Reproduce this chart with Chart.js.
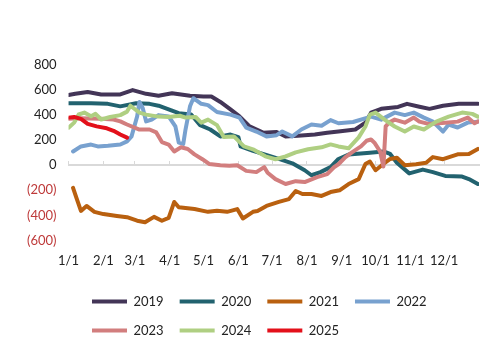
<!DOCTYPE html>
<html>
<head>
<meta charset="utf-8">
<script src="https://cdn.jsdelivr.net/npm/chart.js@4.4.0/dist/chart.umd.min.js"></script>
<style>
  html, body { margin: 0; padding: 0; background: #fff; }
</style>
</head>
<body>
<canvas id="chart" width="502" height="354"></canvas>
<script>
// x is day of year (0 = 1/1), ticks on the first of each month
const monthDays = [0, 31, 59, 90, 120, 151, 181, 212, 243, 273, 304, 334];
const monthLabels = ["1/1", "2/1", "3/1", "4/1", "5/1", "6/1", "7/1", "8/1", "9/1", "10/1", "11/1", "12/1"];
const yTicks = [-600, -400, -200, 0, 200, 400, 600, 800];

const years = ["2019", "2020", "2021", "2022", "2023", "2024", "2025"];
const colors = ["#433557", "#22626F", "#B9600F", "#78A1CF", "#D27E7E", "#AFCF82", "#E3101A"];

// [day, value]
const s2019 = [[0, 560], [6, 570], [17, 585], [29, 565], [46, 565], [57, 600], [69, 570], [80, 555], [92, 575],
  [108, 555], [120, 548], [127, 548], [135, 505], [144, 445], [152, 390], [161, 310], [173, 260], [185, 265],
  [193, 230], [204, 235], [219, 245], [230, 260], [240, 270], [255, 285], [264, 340], [269, 420], [278, 450],
  [293, 465], [301, 490], [312, 467], [321, 450], [333, 475], [347, 490], [364, 490]];
const s2020 = [[0, 495], [20, 495], [35, 490], [46, 470], [60, 495], [72, 490], [80, 475], [89, 445], [98, 415],
  [109, 405], [117, 320], [126, 285], [135, 230], [144, 245], [151, 225], [153, 150], [164, 115], [175, 85],
  [187, 50], [199, 15], [210, -40], [216, -80], [224, -55], [233, -15], [240, 50], [249, 85], [268, 100],
  [280, 110], [286, 90], [292, 20], [303, -65], [315, -35], [324, -55], [335, -85], [350, -90], [356, -110],
  [364, -150]];
const s2021 = [[4, -180], [7, -260], [11, -365], [16, -325], [23, -372], [31, -390], [43, -405], [52, -415],
  [61, -443], [68, -455], [76, -412], [83, -443], [89, -420], [94, -293], [98, -335], [112, -350], [124, -372],
  [132, -364], [141, -372], [150, -350], [155, -425], [164, -372], [168, -365], [176, -325], [187, -293],
  [196, -270], [202, -206], [208, -230], [216, -230], [225, -245], [233, -214], [241, -200], [249, -150],
  [258, -111], [264, 10], [268, 30], [273, -40], [280, 10], [286, 50], [292, 60], [299, 0], [309, 8],
  [318, 20], [324, 65], [333, 48], [346, 87], [356, 90], [364, 130]];
const s2022 = [[4, 110], [11, 150], [20, 165], [26, 150], [35, 155], [46, 165], [52, 190], [56, 230], [61, 390],
  [63, 505], [66, 455], [69, 350], [74, 365], [80, 400], [89, 390], [95, 310], [98, 180], [102, 170], [104, 285],
  [108, 470], [111, 535], [118, 490], [124, 480], [132, 425], [144, 404], [152, 380], [158, 300], [167, 269],
  [176, 230], [185, 240], [190, 269], [199, 230], [207, 285], [216, 325], [225, 315], [233, 360], [240, 335],
  [253, 345], [269, 388], [278, 364], [290, 420], [299, 400], [307, 420], [316, 380], [324, 348], [333, 269],
  [338, 325], [346, 301], [355, 340], [364, 348]];
const s2023 = [[0, 370], [10, 375], [29, 370], [40, 365], [46, 350], [52, 325], [63, 285], [72, 285], [78, 262],
  [83, 185], [89, 165], [94, 110], [100, 143], [106, 130], [112, 87], [119, 48], [125, 10], [135, 0], [143, -5],
  [150, 0], [158, -45], [167, -55], [174, -15], [177, -60], [184, -111], [193, -150], [202, -127], [210, -134],
  [221, -95], [230, -71], [236, -16], [240, 8], [246, 63], [252, 103], [260, 150], [265, 195], [269, 205],
  [272, 180], [277, 111], [280, -10], [282, 310], [285, 340], [290, 364], [299, 340], [307, 380], [312, 348],
  [320, 330], [335, 340], [346, 348], [355, 380], [361, 335], [364, 350]];
const s2024 = [[0, 300], [5, 340], [9, 405], [14, 420], [20, 390], [24, 410], [29, 365], [37, 385], [46, 400],
  [52, 428], [55, 475], [63, 420], [69, 404], [80, 388], [89, 385], [99, 395], [104, 380], [113, 385], [118, 340],
  [124, 364], [132, 320], [138, 225], [147, 230], [156, 150], [164, 127], [175, 71], [184, 48], [193, 70],
  [202, 103], [213, 127], [225, 143], [233, 166], [240, 150], [249, 135], [258, 222], [264, 309], [268, 404],
  [273, 420], [281, 364], [290, 309], [299, 269], [307, 309], [316, 285], [327, 348], [338, 388], [350, 420],
  [359, 410], [364, 388]];
const s2025 = [[0, 380], [5, 385], [11, 370], [17, 330], [25, 310], [34, 295], [40, 275], [46, 245], [52, 220]];

const series = [s2019, s2020, s2021, s2022, s2023, s2024, s2025];

const negColor = "#BE3A3A";
const textColor = "#222";
const axisColor = "#D9D9D9";
const font = { family: "Lato, 'Open Sans', sans-serif", size: 13 };

function monthTicks(axis) {
  axis.ticks = monthDays.map((d) => ({ value: d }));
}

// Excel keeps the second legend row left aligned under the first one
const legendLeft = {
  id: "legendLeft",
  afterLayout(chart) {
    const legend = chart.legend;
    legend.left = 92 - legend.options.labels.padding;
  },
};

const ctx = document.getElementById("chart").getContext("2d");
new Chart(ctx, {
  type: "line",
  data: {
    datasets: years.map((year, i) => ({
      label: year,
      data: series[i].map(([x, y]) => ({ x, y })),
      borderColor: colors[i],
      backgroundColor: colors[i],
      borderWidth: 4,
      pointRadius: 0,
      borderJoinStyle: "round",
      borderCapStyle: "round",
      order: years.length - i, // later years on top, like Excel
    })),
  },
  options: {
    responsive: false,
    animation: false,
    layout: { padding: { top: 65, left: 15, right: 23, bottom: 7 } },
    plugins: {
      legend: {
        position: "bottom",
        align: "start",
        labels: {
          usePointStyle: true,
          pointStyle: "line",
          pointStyleWidth: 35,
          padding: 16,
          color: textColor,
          font: font,
          sort: (a, b) => a.datasetIndex - b.datasetIndex,
        },
      },
      tooltip: { enabled: false },
    },
    scales: {
      x: {
        type: "linear",
        min: 0,
        max: 365,
        position: { y: 0 },
        afterBuildTicks: monthTicks,
        ticks: { display: false },
        grid: { drawOnChartArea: false, color: axisColor, tickLength: -5 },
        border: { color: axisColor, width: 2 },
      },
      x2: {
        type: "linear",
        min: 0,
        max: 365,
        position: "bottom",
        afterBuildTicks: monthTicks,
        afterFit: (axis) => {
          axis.height -= 3;
        },
        ticks: {
          autoSkip: false,
          maxRotation: 0,
          padding: 13,
          color: textColor,
          font: font,
          callback: (v, i) => monthLabels[i],
        },
        grid: { display: false, drawTicks: false },
        border: { display: false },
      },
      y: {
        min: yTicks[0],
        max: yTicks[yTicks.length - 1],
        afterBuildTicks: (axis) => {
          axis.ticks = yTicks.map((v) => ({ value: v }));
        },
        ticks: {
          padding: 12,
          font: font,
          color: (c) => (c.tick.value < 0 ? negColor : textColor),
          callback: (v) => (v < 0 ? "(" + -v + ")" : String(v)),
        },
        grid: { display: false, drawTicks: false },
        border: { display: false },
      },
    },
  },
  plugins: [legendLeft],
});
</script>
</body>
</html>
